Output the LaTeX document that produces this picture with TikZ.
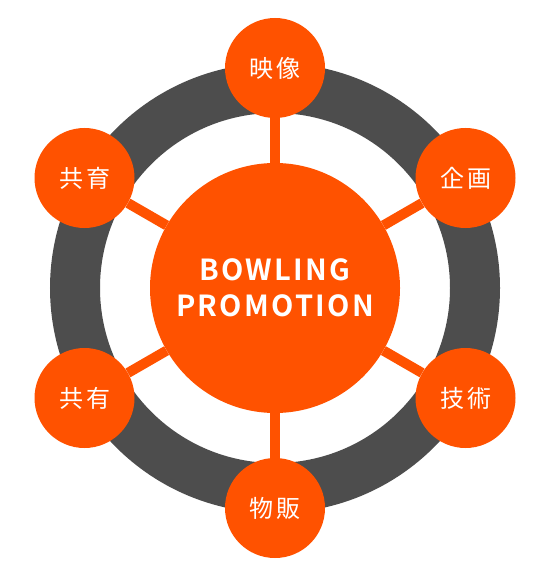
\documentclass[tikz,border=0pt]{standalone}
\usepackage{fontspec}
\usetikzlibrary{calc}
\newfontfamily\jpfont{Noto Sans CJK JP}
\newfontfamily\jpbold{Noto Sans CJK JP Bold}[LetterSpace=8]
\definecolor{orng}{HTML}{FF5200}
\definecolor{ringgray}{HTML}{4D4D4D}
\begin{document}
\begin{tikzpicture}[x=1pt,y=-1pt,
  hub/.style={circle,fill=orng,minimum size=250pt,inner sep=0pt,text=white,align=center,
    font=\jpbold\fontsize{29}{36}\selectfont},
  sat/.style={circle,fill=orng,minimum size=100pt,inner sep=0pt,text=white,
    font=\jpfont\fontsize{24}{28}\selectfont},
  spoke/.style={draw=orng,line width=10pt}]
\useasboundingbox (0,0) rectangle (550,580);
\fill[white] (0,0) rectangle (550,580);
\coordinate (o) at (275,288);
\draw[ringgray,line width=50pt] (o) circle[radius=200];
\node[hub] (c) at (o) {BOWLING\\PROMOTION};
\node[sat] (t)  at ($(o)+(0,-220)$) {映\hspace{3pt}像};
\node[sat] (tr) at ($(o)+(190.5,-110)$) {企\hspace{3pt}画};
\node[sat] (br) at ($(o)+(190.5,110)$) {技\hspace{3pt}術};
\node[sat] (b)  at ($(o)+(0,220)$) {物\hspace{3pt}販};
\node[sat] (bl) at ($(o)+(-190.5,110)$) {共\hspace{3pt}有};
\node[sat] (tl) at ($(o)+(-190.5,-110)$) {共\hspace{3pt}育};
\foreach \n in {t,tr,br,b,bl,tl} \draw[spoke] (c) -- (\n);
\end{tikzpicture}
\end{document}
